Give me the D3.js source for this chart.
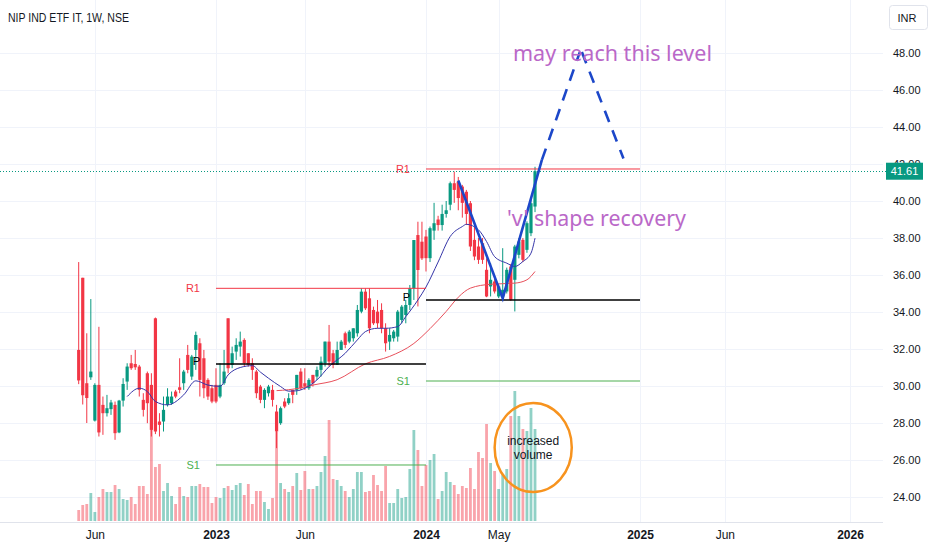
<!DOCTYPE html>
<html>
<head>
<meta charset="utf-8">
<script src="https://cdn.jsdelivr.net/npm/d3@7"></script>
<style>
body { margin: 0; background: #fff; }
svg { display: block; font-family: "Liberation Sans", Arial, sans-serif; }
</style>
</head>
<body>
<svg id="chart" width="932" height="550"></svg>
<script>
// NIP IND ETF IT, weekly bars, first bar = week of 9 May 2022
var firstWeek = Date.UTC(2022, 4, 9);

var opens = [31.95,35.85,30.15,30.47,28.13,30.06,28.98,28.53,28.75,28.98,27.49,29.21,30.24,31.23,31.19,31.05,29.25,30.69,30.06,33.66,
  28.08,28.08,28.98,29.07,29.7,29.93,30.15,31.68,30.51,31.95,32.31,31.5,30.33,29.88,30.06,29.43,30.15,33.66,31.14,31.86,
  32.13,32.49,31.77,31.23,30.78,29.97,29.25,29.61,29.79,28.62,27.99,29.16,29.07,29.79,29.79,30.78,30.15,29.88,30.6,30.51,
  30.87,31.23,32.4,31.77,31.14,31.95,32.85,32.4,32.58,32.85,34.02,35.1,34.74,34.11,34.02,34.11,33.12,32.4,32.58,32.67,
  33.57,33.84,34.38,35.28,38.16,37.8,38.08,36.91,38.4,39.0,38.7,39.3,39.8,40.96,41.05,40.78,40.5,39.88,37.9,37.54,
  37.72,36.28,35.38,35.65,34.84,34.84,35.11,36.46,35.74,37.09,37.9,37.36,38.26,39.7];
var highs = [36.7,35.85,32.85,34.7,30.15,33.2,29.43,29.52,29.25,29.16,29.25,30.42,31.23,31.68,31.95,31.14,29.61,30.78,30.69,33.7,
  28.53,29.43,29.88,29.7,29.79,31.5,30.87,32.22,31.68,32.94,32.58,31.95,30.42,30.06,30.96,31.23,31.95,33.66,32.13,32.58,
  32.94,32.58,31.77,31.5,30.87,30.06,29.88,30.06,30.06,28.98,28.89,29.34,29.61,29.79,30.6,30.96,30.96,30.42,30.6,31.05,
  31.59,32.4,33.3,31.95,32.4,32.49,32.94,33.03,33.12,34.38,35.28,35.28,35.28,34.29,34.65,34.47,33.39,33.12,33.03,34.11,
  34.38,34.65,35.46,37.89,38.88,38.88,38.44,38.62,39.9,39.2,39.8,40.0,41.05,41.59,41.3,40.87,40.6,40.0,38.6,38.0,
  38.0,36.9,36.64,35.9,35.47,37.45,36.4,36.6,37.63,38.0,38.0,38.9,40.1,41.85];
var lows = [30.1,29.0,28.0,30.33,28.08,27.27,27.36,28.35,28.44,27.09,27.45,28.89,29.79,30.87,30.87,29.43,28.35,27.99,27.27,27.4,
  27.27,27.54,28.89,28.98,29.34,29.61,29.79,30.69,30.33,30.87,29.43,29.34,29.25,29.07,29.07,29.34,30.06,30.69,30.96,31.41,
  31.59,31.05,31.05,30.33,29.34,29.07,28.8,29.43,28.89,26.64,27.9,28.8,28.98,29.07,29.52,29.79,29.79,29.79,29.97,30.33,
  30.51,31.05,31.05,30.96,31.14,31.95,32.04,32.31,32.4,32.67,33.93,34.11,32.85,33.3,33.12,32.85,31.86,31.95,32.4,32.4,
  33.39,33.39,34.11,34.65,34.3,36.81,36.19,36.7,37.9,38.4,38.4,39.1,39.5,39.9,39.5,39.1,38.7,37.3,36.8,36.6,
  36.6,34.8,34.84,35.0,34.75,34.75,35.0,34.6,34.03,36.9,36.7,37.2,38.1,39.4];
var closes = [30.3,29.5,29.35,30.78,30.06,27.49,28.53,28.8,29.11,27.45,29.21,30.11,31.05,30.96,31.01,29.79,28.71,29.07,27.63,27.54,
  27.9,28.71,29.43,29.43,29.43,29.79,30.78,30.87,31.59,32.76,30.33,29.88,29.43,29.16,29.16,30.06,30.78,30.96,31.77,32.22,
  32.4,31.23,31.14,30.87,29.61,29.25,29.79,29.97,29.25,27.54,28.8,28.89,29.34,29.52,30.6,29.88,29.97,30.33,30.15,30.87,
  31.32,32.4,31.32,31.14,31.95,32.4,32.22,32.94,33.12,34.11,35.1,34.2,33.12,33.39,33.39,33.12,32.31,32.76,32.94,34.02,
  34.29,34.38,35.28,37.89,36.27,36.9,36.91,38.53,38.8,38.7,39.3,39.5,40.96,40.6,40.16,39.9,39.3,37.54,37.0,36.82,
  36.82,34.84,35.74,35.11,35.38,35.2,36.28,34.66,37.54,37.81,36.82,38.8,39.88,41.61];
var volumes = [11,16,17,28,9,24,32,29,29,36,32,22,21,24,17,35,35,27,101,54,
  57,30,38,25,17,34,25,24,35,35,37,34,34,18,24,23,33,35,31,36,
  38,26,37,17,30,30,19,12,23,89,38,32,29,35,48,31,50,32,32,35,
  49,65,101,42,41,35,30,24,32,49,49,29,30,46,36,30,55,18,18,32,
  23,24,52,91,71,35,56,61,67,22,30,49,39,36,27,35,33,53,32,69,
  63,97,58,50,32,47,52,105,130,105,92,90,113,92];

// moving averages (bar index, price)
var maFastBar = [12,15,17,19,22,23,26,29,32,35,37,40,43,45,47,50,52,54,56,59,62,66,69,71,74,76,79,81,84,86,89,92,95,96,99,101,103,106,108,110,112,113];
var maFastVal = [29.43,29.88,29.7,29.16,28.98,29.03,29.52,30.28,30.05,29.98,30.6,31.0,31.1,30.75,30.42,29.97,29.72,29.74,29.88,30.33,31.05,31.77,32.49,32.94,33.12,33.12,33.21,33.75,34.65,35.35,36.7,38.08,38.62,38.74,38.44,37.81,36.99,36.64,36.46,36.73,37.18,37.99];
var maSlowBar = [49,52,55,58,64,71,77,83,87,91,94,97,102,108,111,113];
var maSlowVal = [29.75,29.8,29.9,30.05,30.34,31.2,31.6,32.3,33.1,34.03,34.8,35.29,35.5,35.56,35.74,36.19];

// yearly pivot levels
var pivotNames = ["R1", "P", "S1"];
var pivotColors = ["#f23645", "#000000", "#4caf50"];
var pivot2023 = [35.28, 31.19, 25.73];
var pivot2024 = [41.73, 34.65, 30.27];
var pivotStarts = ["2023-01-02", "2024-01-01"];
var pivotEnds = ["2024-01-01", "2025-01-06"];

// hand drawn lines (bar index, price)
var vShape = [[94, 41.11], [105, 34.74], [114.7, 42.22]];
var targetUp = [[114.7, 42.22], [124.1, 48.05]];
var targetDown = [[124.6, 48.05], [134.9, 42.3]];
var volumeCircle = { left: 103, right: 122.1, top: 29.08, bottom: 24.27 };

var priceTicks = [24, 26, 28, 30, 32, 34, 36, 38, 40, 42, 44, 46, 48];
var timeTicks = ["2022-06-06", "2023-01-02", "2023-06-05", "2024-01-01", "2024-05-06", "2025-01-06", "2025-06-02", "2026-01-05"];
var timeLabels = ["Jun", "2023", "Jun", "2024", "May", "2025", "Jun", "2026"];
var lastPrice = 41.61;

var paneRight = 883, paneBottom = 522;
var up = "#089981", down = "#f23645";
var parse = d3.utcParse("%Y-%m-%d");

var svg = d3.select("#chart");

var x = d3.scaleUtc()
  .domain([new Date(firstWeek), parse("2026-01-05")])
  .range([78.7, 850]);
var y = d3.scaleLinear().domain([24, 48]).range([497, 53]);
var vol = d3.scaleLinear().domain([0, 130]).range([paneBottom - 1, 391]);

function barDate(i) { return new Date(firstWeek + i * 7 * 864e5); }
function bx(i) { return x(barDate(i)); }

var bars = closes.map(function(c, i) {
  return { i: i, o: opens[i], h: highs[i], l: lows[i], c: c, v: volumes[i] };
});

// grid
svg.append("g").selectAll("line").data(priceTicks).enter().append("line")
  .attr("x1", 0).attr("x2", paneRight)
  .attr("y1", function(d) { return Math.round(y(d)) + 0.5; })
  .attr("y2", function(d) { return Math.round(y(d)) + 0.5; })
  .attr("stroke", "#f0f3fa");
svg.append("g").selectAll("line").data(timeTicks).enter().append("line")
  .attr("x1", function(d) { return Math.round(x(parse(d))) + 0.5; })
  .attr("x2", function(d) { return Math.round(x(parse(d))) + 0.5; })
  .attr("y1", 0).attr("y2", paneBottom)
  .attr("stroke", "#f0f3fa");
svg.append("line").attr("x1", 0).attr("x2", paneRight)
  .attr("y1", paneBottom + 0.5).attr("y2", paneBottom + 0.5)
  .attr("stroke", "#e0e3eb");

// volume
svg.append("g").selectAll("rect").data(bars).enter().append("rect")
  .attr("x", function(d) { return bx(d.i) - 1.4; })
  .attr("width", 2.8)
  .attr("y", function(d) { return vol(d.v); })
  .attr("height", function(d) { return vol(0) - vol(d.v); })
  .attr("fill", function(d) { return d.c >= d.o ? up : down; })
  .attr("fill-opacity", 0.45);

// candles
var candle = svg.append("g").selectAll("g").data(bars).enter().append("g");
candle.append("line")
  .attr("x1", function(d) { return bx(d.i); })
  .attr("x2", function(d) { return bx(d.i); })
  .attr("y1", function(d) { return y(d.h); })
  .attr("y2", function(d) { return y(d.l); })
  .attr("stroke", function(d) { return d.c >= d.o ? up : down; })
  .attr("stroke-width", 1);
candle.append("rect")
  .attr("x", function(d) { return bx(d.i) - 1.6; })
  .attr("width", 3.2)
  .attr("y", function(d) { return y(Math.max(d.o, d.c)); })
  .attr("height", function(d) { return Math.max(1, Math.abs(y(d.o) - y(d.c))); })
  .attr("fill", function(d) { return d.c >= d.o ? up : down; });

// moving averages
var maLine = d3.line()
  .x(function(d) { return bx(d[0]); })
  .y(function(d) { return y(d[1]); })
  .curve(d3.curveMonotoneX);
svg.append("path").datum(d3.zip(maSlowBar, maSlowVal))
  .attr("d", maLine).attr("fill", "none")
  .attr("stroke", "#e8505b").attr("stroke-width", 1);
svg.append("path").datum(d3.zip(maFastBar, maFastVal))
  .attr("d", maLine).attr("fill", "none")
  .attr("stroke", "#3535a8").attr("stroke-width", 1);

// pivot levels
[pivot2023, pivot2024].forEach(function(levels, k) {
  var x1 = x(parse(pivotStarts[k])), x2 = x(parse(pivotEnds[k]));
  var g = svg.append("g");
  g.selectAll("line").data(levels).enter().append("line")
    .attr("x1", x1).attr("x2", x2)
    .attr("y1", function(d) { return y(d); })
    .attr("y2", function(d) { return y(d); })
    .attr("stroke", function(d, i) { return pivotColors[i]; })
    .attr("stroke-width", function(d, i) { return i == 1 ? 1.5 : 1; });
  g.selectAll("text").data(levels).enter().append("text")
    .attr("x", x1 - 16)
    .attr("y", function(d, i) { return y(d) + (i == 1 ? 1 : 4); })
    .attr("text-anchor", "end")
    .attr("font-size", "11px")
    .attr("fill", function(d, i) { return pivotColors[i]; })
    .text(function(d, i) { return pivotNames[i]; });
});

// last price dotted line
svg.append("line")
  .attr("x1", 0).attr("x2", paneRight + 3)
  .attr("y1", Math.round(y(lastPrice)) + 0.5).attr("y2", Math.round(y(lastPrice)) + 0.5)
  .attr("stroke", up).attr("stroke-dasharray", "1,2");

// hand drawn trend lines
var drawLine = d3.line()
  .x(function(d) { return bx(d[0]); })
  .y(function(d) { return y(d[1]); });
svg.append("path").datum(vShape).attr("d", drawLine)
  .attr("fill", "none").attr("stroke", "#1c47c9").attr("stroke-width", 2.6);
[targetUp, targetDown].forEach(function(pts) {
  svg.append("path").datum(pts).attr("d", drawLine)
    .attr("fill", "none").attr("stroke", "#1c47c9").attr("stroke-width", 2.6)
    .attr("stroke-dasharray", "12,9");
});

// notes
svg.append("text").attr("x", 513).attr("y", 61)
  .attr("font-family", "Noto Sans").attr("font-size", "22px")
  .attr("fill", "#ba68c8").attr("textLength", 199).attr("lengthAdjust", "spacingAndGlyphs")
  .text("may reach this level");
svg.append("text").attr("x", 507).attr("y", 226)
  .attr("font-family", "Noto Sans").attr("font-size", "22px")
  .attr("fill", "#ba68c8").attr("textLength", 179).attr("lengthAdjust", "spacingAndGlyphs")
  .text("'v' shape recovery");

var cx = (bx(volumeCircle.left) + bx(volumeCircle.right)) / 2;
var cy = (y(volumeCircle.top) + y(volumeCircle.bottom)) / 2;
svg.append("ellipse")
  .attr("cx", cx).attr("cy", cy)
  .attr("rx", (bx(volumeCircle.right) - bx(volumeCircle.left)) / 2)
  .attr("ry", (y(volumeCircle.bottom) - y(volumeCircle.top)) / 2)
  .attr("fill", "none").attr("stroke", "#f7931e").attr("stroke-width", 2.5);
svg.append("text").attr("x", cx).attr("y", cy - 3)
  .attr("text-anchor", "middle").attr("font-size", "12px").attr("fill", "#131722")
  .text("increased");
svg.append("text").attr("x", cx).attr("y", cy + 11)
  .attr("text-anchor", "middle").attr("font-size", "12px").attr("fill", "#131722")
  .text("volume");

// axes
var yAxis = svg.append("g")
  .attr("transform", "translate(" + paneRight + ",0)")
  .call(d3.axisRight(y).tickValues(priceTicks).tickFormat(d3.format(".2f")).tickSize(0).tickPadding(10));
yAxis.select(".domain").remove();
yAxis.selectAll("text").attr("font-size", "11px").attr("fill", "#131722");

var xAxis = svg.append("g")
  .attr("transform", "translate(0," + paneBottom + ")")
  .call(d3.axisBottom(x).tickValues(timeTicks.map(parse))
    .tickFormat(function(d, i) { return timeLabels[i]; }).tickSize(0).tickPadding(8));
xAxis.select(".domain").remove();
xAxis.selectAll("text").attr("font-size", "12px").attr("fill", "#131722")
  .attr("font-weight", function(d, i) { return /^\d+$/.test(timeLabels[i]) ? "bold" : "normal"; });

// last price tag
svg.append("rect").attr("x", 886).attr("y", y(lastPrice) - 8.5)
  .attr("width", 37).attr("height", 17).attr("fill", up);
svg.append("text").attr("x", 904.5).attr("y", y(lastPrice) + 4)
  .attr("text-anchor", "middle").attr("font-size", "11px").attr("fill", "#fff")
  .text(d3.format(".2f")(lastPrice));

// title and currency
svg.append("text").attr("x", 8).attr("y", 21.5)
  .attr("font-size", "12.5px").attr("fill", "#131722")
  .attr("textLength", 121).attr("lengthAdjust", "spacingAndGlyphs")
  .text("NIP IND ETF IT, 1W, NSE");
svg.append("rect").attr("x", 889.5).attr("y", 5.5).attr("width", 38).attr("height", 24)
  .attr("rx", 3).attr("fill", "#fff").attr("stroke", "#e0e3eb");
svg.append("text").attr("x", 907).attr("y", 21.5)
  .attr("text-anchor", "middle").attr("font-size", "11px").attr("fill", "#131722")
  .text("INR");
</script>
</body>
</html>
